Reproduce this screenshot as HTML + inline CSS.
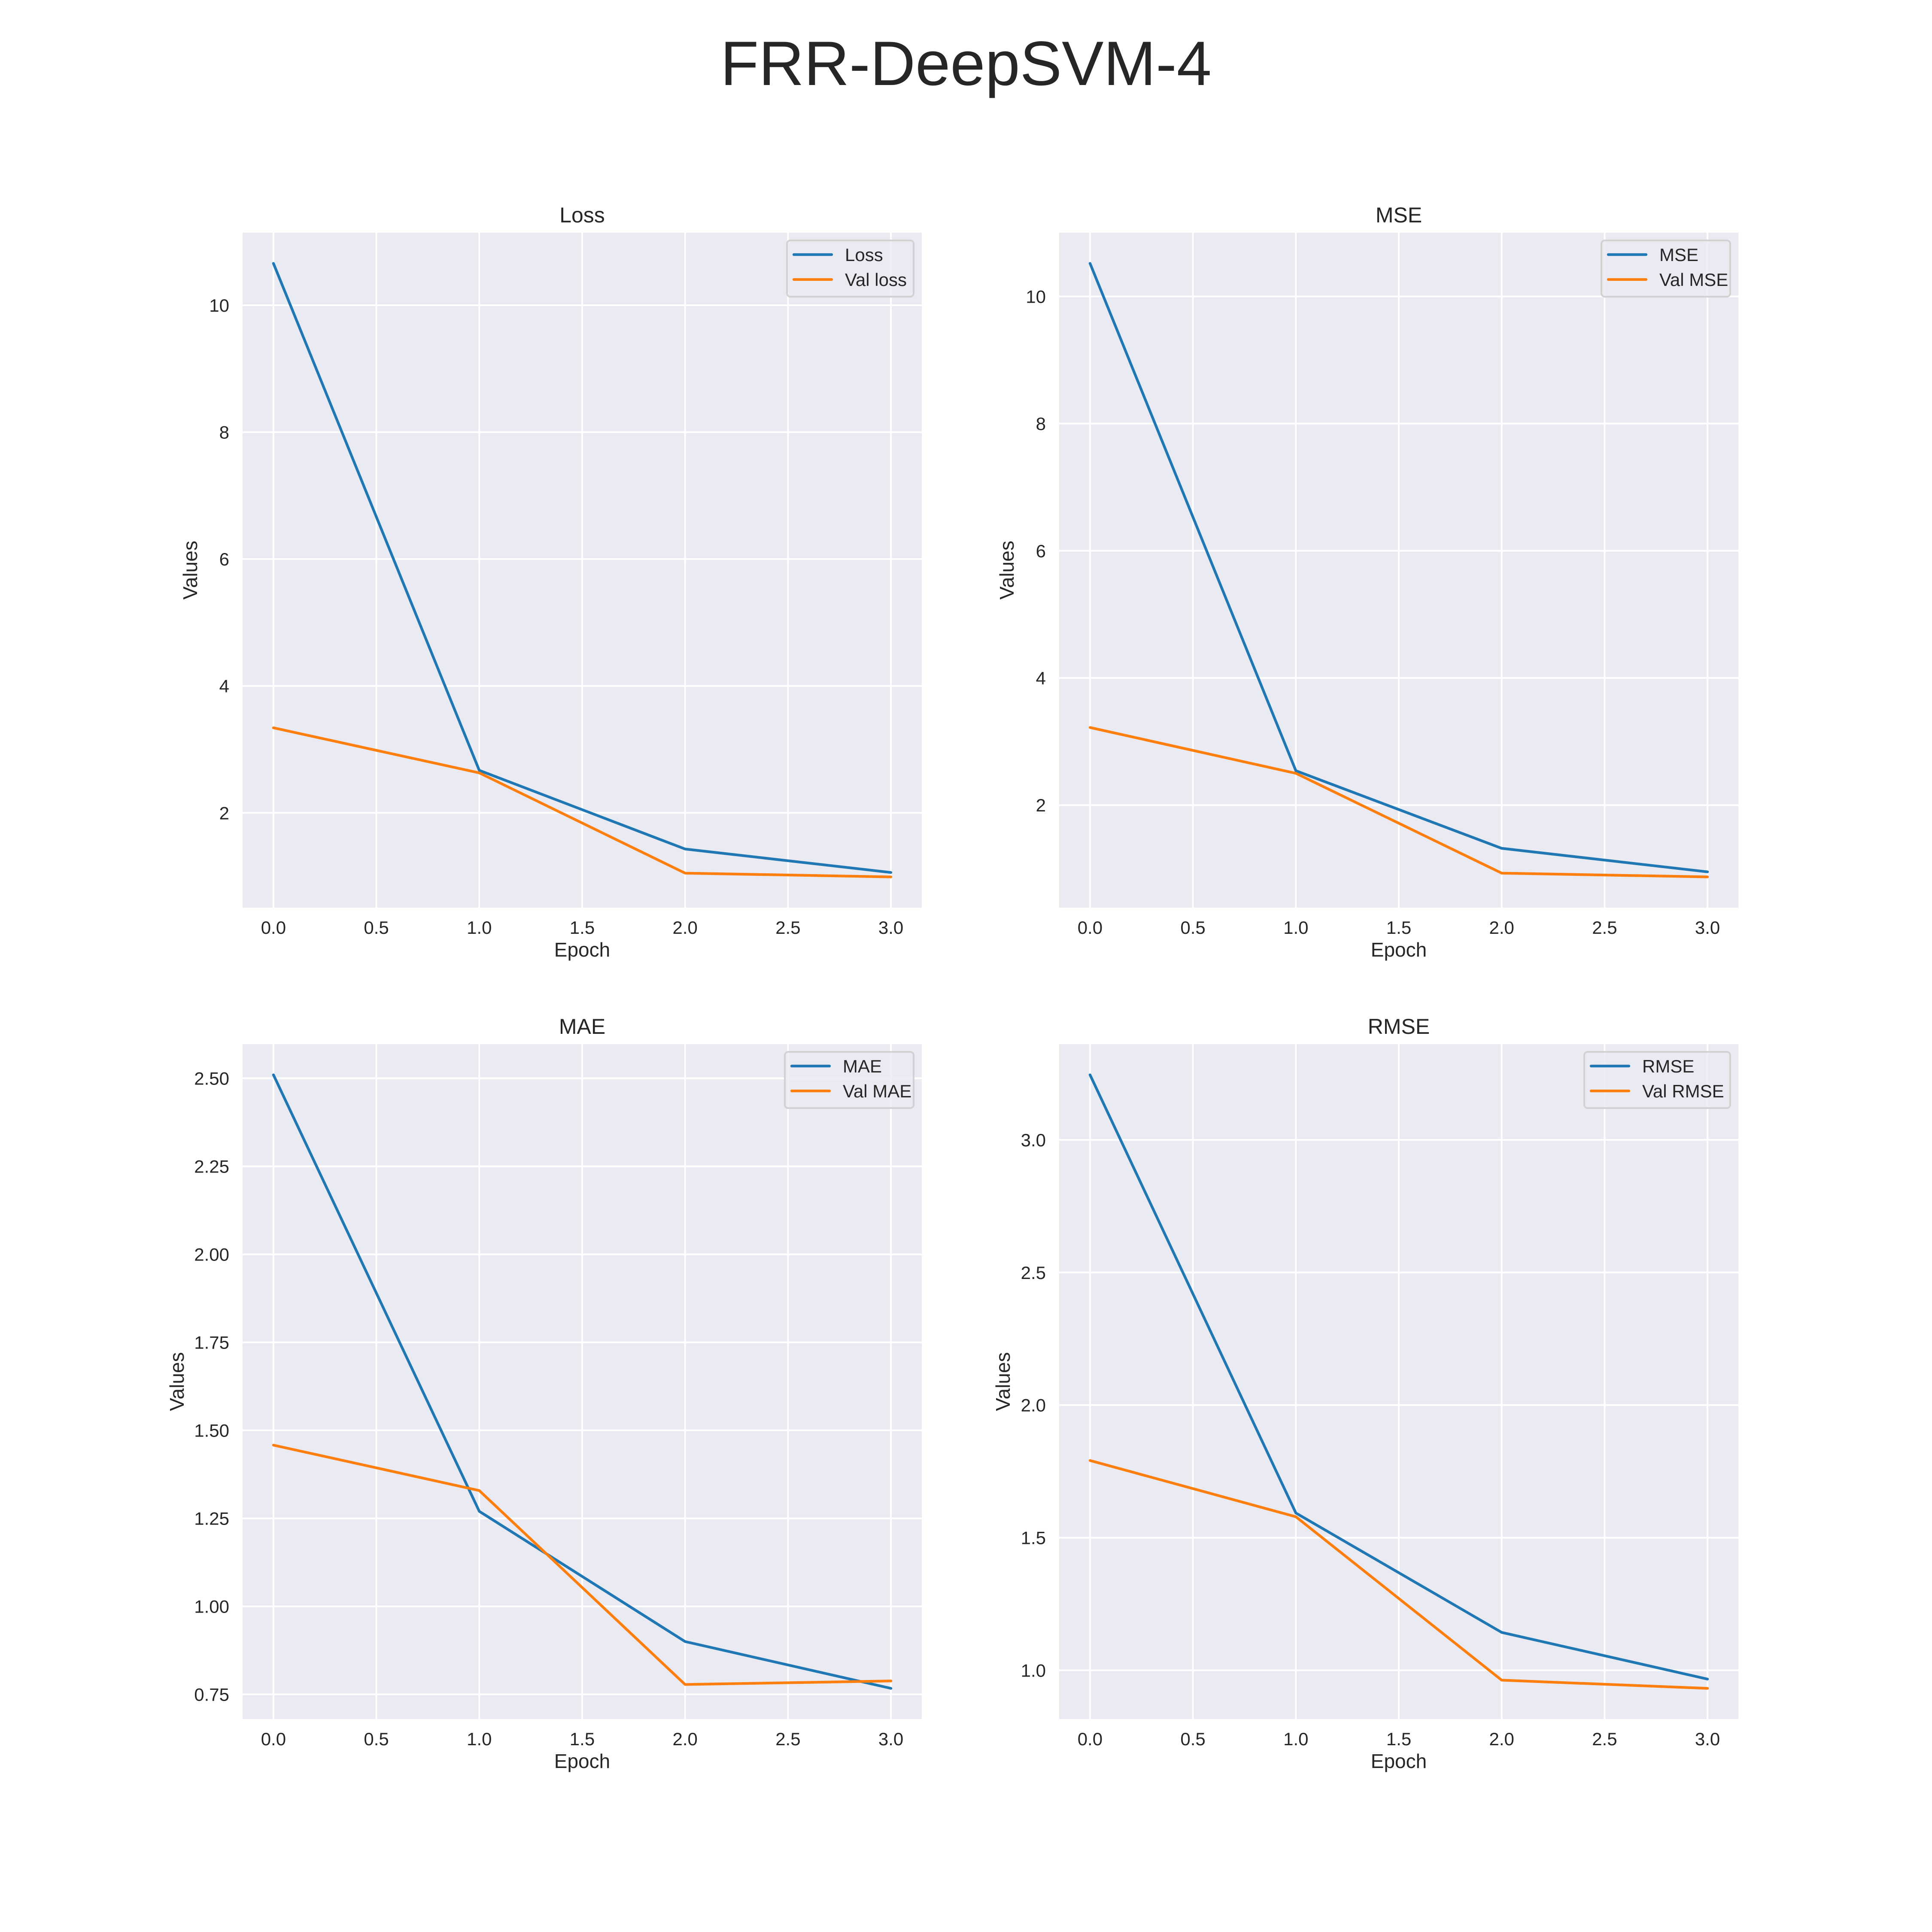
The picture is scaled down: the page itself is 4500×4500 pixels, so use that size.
<!DOCTYPE html>
<html><head><meta charset="utf-8"><style>
html,body{margin:0;padding:0;background:#fff;}
svg{display:block;font-family:"Liberation Sans",Arial,sans-serif;}
</style></head><body>
<svg id="fig" width="4500" height="4500" viewBox="0 0 4500 4500" xmlns="http://www.w3.org/2000/svg">
<rect width="4500" height="4500" fill="#ffffff"/>
<text x="2250" y="198" font-size="146" text-anchor="middle" fill="#262626">FRR-DeepSVM-4</text>
</svg>
<script>
const epochs = [0, 1, 2, 3];
const xTicks = [0, 0.5, 1, 1.5, 2, 2.5, 3];
const xTickLabels = ["0.0","0.5","1.0","1.5","2.0","2.5","3.0"];

const lossTrain = [10.66, 2.67, 1.43, 1.06];
const lossVal = [3.34, 2.63, 1.05, 0.99];
const lossTicks = [2, 4, 6, 8, 10];
const lossTickLabels = ["2","4","6","8","10"];

const mseTrain = [10.52, 2.54, 1.32, 0.95];
const mseVal = [3.22, 2.50, 0.93, 0.87];
const mseTicks = [2, 4, 6, 8, 10];
const mseTickLabels = ["2","4","6","8","10"];

const maeTrain = [2.51, 1.27, 0.90, 0.767];
const maeVal = [1.458, 1.329, 0.778, 0.788];
const maeTicks = [0.75, 1.0, 1.25, 1.5, 1.75, 2.0, 2.25, 2.5];
const maeTickLabels = ["0.75","1.00","1.25","1.50","1.75","2.00","2.25","2.50"];

const rmseTrain = [3.245, 1.593, 1.143, 0.967];
const rmseVal = [1.791, 1.579, 0.963, 0.932];
const rmseTicks = [1.0, 1.5, 2.0, 2.5, 3.0];
const rmseTickLabels = ["1.0","1.5","2.0","2.5","3.0"];

const NS = "http://www.w3.org/2000/svg";
const svg = document.getElementById("fig");
function mk(tag, attrs, parent) {
  const e = document.createElementNS(NS, tag);
  for (const k in attrs) e.setAttribute(k, attrs[k]);
  (parent || svg).appendChild(e);
  return e;
}

function panel(key, title, L, T, trainVals, valVals, yTicks, yTickLabels, trainName, valName, ylabOffset, lw) {
  const W = 1582, H = 1572;
  const g = mk("g", {});
  
  
  const all = trainVals.concat(valVals);
  const mn = Math.min(...all), mx = Math.max(...all), r = mx - mn;
  const y0 = mn - 0.05 * r, y1 = mx + 0.05 * r;
  const x0 = -0.15, x1 = 3.15;
  const sx = v => L + (v - x0) / (x1 - x0) * W;
  const sy = v => T + (y1 - v) / (y1 - y0) * H;

  const bg = mk("rect", {x: L, y: T, width: W, height: H, fill: "#eaeaf2"}, g);
  
  

  xTicks.forEach((t, i) => {
    const gl = mk("line", {x1: sx(t), x2: sx(t), y1: T, y2: T + H, stroke: "#ffffff", "stroke-width": 4}, g);
    
    
    const tl = mk("text", {x: sx(t), y: T + H + 61, "font-size": 42, "text-anchor": "middle", fill: "#262626"}, g);
    tl.textContent = xTickLabels[i];
    
    
  });
  yTicks.forEach((t, i) => {
    const gl = mk("line", {x1: L, x2: L + W, y1: sy(t), y2: sy(t), stroke: "#ffffff", "stroke-width": 4}, g);
    
    
    const tl = mk("text", {x: L - 31, y: sy(t) + 15, "font-size": 42, "text-anchor": "end", fill: "#262626"}, g);
    tl.textContent = yTickLabels[i];
    
    
  });

  const pts = arr => arr.map((v, i) => sx(epochs[i]).toFixed(1) + "," + sy(v).toFixed(1)).join(" ");
  const l1 = mk("polyline", {points: pts(trainVals), fill: "none", stroke: "#1f77b4", "stroke-width": 6.25, "stroke-linecap": "round", "stroke-linejoin": "round"}, g);
  
  
  const l2 = mk("polyline", {points: pts(valVals), fill: "none", stroke: "#ff7f0e", "stroke-width": 6.25, "stroke-linecap": "round", "stroke-linejoin": "round"}, g);
  
  

  const tt = mk("text", {x: L + W / 2, y: T - 24, "font-size": 50, "text-anchor": "middle", fill: "#262626"}, g);
  tt.textContent = title;
  
  
  const xl = mk("text", {x: L + W / 2, y: T + H + 114, "font-size": 46, "text-anchor": "middle", fill: "#262626"}, g);
  xl.textContent = "Epoch";
  
  
  const yx = L - ylabOffset, yy = T + H / 2;
  const yl = mk("text", {x: yx, y: yy, "font-size": 46, "text-anchor": "middle", fill: "#262626", transform: "rotate(-90 " + yx + " " + yy + ")"}, g);
  yl.textContent = "Values";
  
  

  const lx = L + W - 19 - lw, ly = T + 18;
  const lg = mk("g", {}, g);
  
  
  mk("rect", {x: lx, y: ly, width: lw, height: 131, rx: 8, fill: "#eaeaf2", "fill-opacity": 0.8, stroke: "#d2d2d2", "stroke-width": 4}, lg);
  [[trainName, "#1f77b4", 33], [valName, "#ff7f0e", 91]].forEach(([nm, c, dy], i) => {
    const ent = mk("g", {}, lg);
    
    
    mk("line", {x1: lx + 16, x2: lx + 104, y1: ly + dy, y2: ly + dy, stroke: c, "stroke-width": 6.25, "stroke-linecap": "round"}, ent);
    const t = mk("text", {x: lx + 135, y: ly + dy + 15, "font-size": 42, fill: "#262626"}, ent);
    t.textContent = nm;
  });
}

panel("loss", "Loss", 565, 542, lossTrain, lossVal, lossTicks, lossTickLabels, "Loss", "Val loss", 106, 295);
panel("mse", "MSE", 2467, 542, mseTrain, mseVal, mseTicks, mseTickLabels, "MSE", "Val MSE", 106, 300);
panel("mae", "MAE", 565, 2432, maeTrain, maeVal, maeTicks, maeTickLabels, "MAE", "Val MAE", 137, 300);
panel("rmse", "RMSE", 2467, 2432, rmseTrain, rmseVal, rmseTicks, rmseTickLabels, "RMSE", "Val RMSE", 115, 340);
</script>
</body></html>
